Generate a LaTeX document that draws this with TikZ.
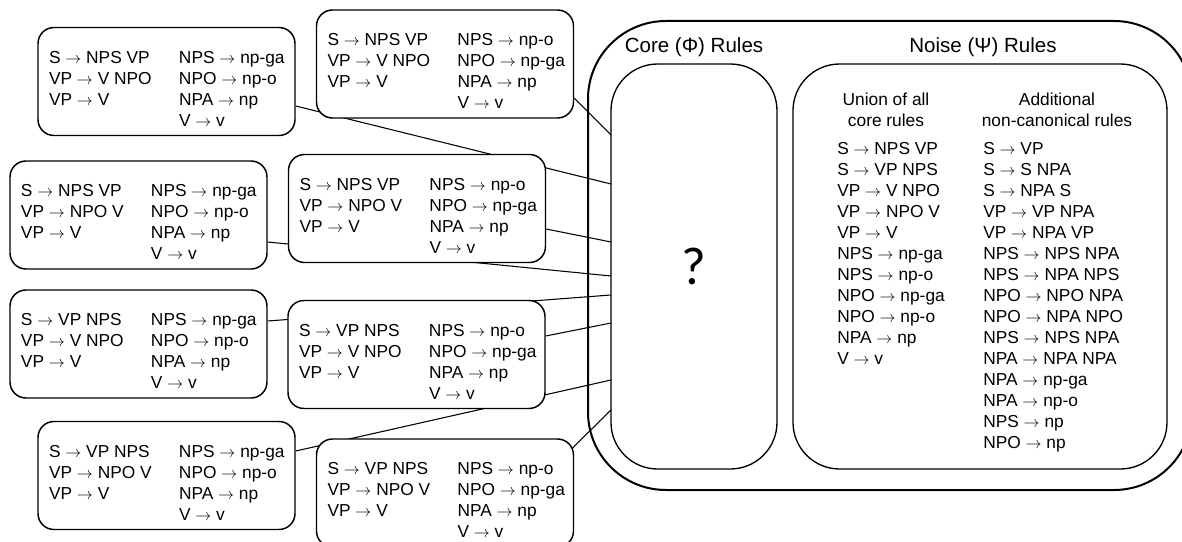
\documentclass[tikz,border=0pt]{standalone}
\usepackage{fontspec}
\setmainfont{Liberation Sans}
\newfontfamily\qfont{Carlito}
\usetikzlibrary{calc}
\pgfdeclarelayer{background}
\pgfsetlayers{background,main}

\tikzset{
  gbox/.style={draw, fill=white, rounded corners=12pt, line width=1.1pt,
    minimum width=192.75pt, minimum height=81pt, inner xsep=8.25pt, inner ysep=0pt},
  ruleset/.style={draw, line width=1pt, rounded corners=35pt, minimum height=303.75pt},
  link/.style={line width=0.8pt},
}
\newcommand{\goes}{$\rightarrow$}
\newcommand{\gram}[4]{\makebox[176.25pt][l]{\raisebox{-9.75pt}[0pt][0pt]{\begin{tabular}{@{}p{97.5pt}@{}l@{}}
S \goes{} #1 & NPS \goes{} #3\\ VP \goes{} #2 & NPO \goes{} #4\\ VP \goes{} V & NPA \goes{} np\\ & V \goes{} v\end{tabular}}}}

\begin{document}
\begin{tikzpicture}[x=0.75pt, y=-0.75pt, font=\fontsize{13pt}{15.8pt}\selectfont]
\useasboundingbox (0,0) rectangle (1182,542);
\clip (0,0) rectangle (1182,542);

% candidate grammars
\node[gbox] (g1) at (166.5,81.5) {\gram{NPS VP}{V NPO}{np-ga}{np-o}};
\node[gbox] (g2) at (445,64) {\gram{NPS VP}{V NPO}{np-o}{np-ga}};
\node[gbox] (g3) at (138.5,215) {\gram{NPS VP}{NPO V}{np-ga}{np-o}};
\node[gbox] (g4) at (417,208.5) {\gram{NPS VP}{NPO V}{np-o}{np-ga}};
\node[gbox] (g5) at (138.5,344) {\gram{VP NPS}{V NPO}{np-ga}{np-o}};
\node[gbox] (g6) at (416.5,354.5) {\gram{VP NPS}{V NPO}{np-o}{np-ga}};
\node[gbox] (g7) at (166.5,475.5) {\gram{VP NPS}{NPO V}{np-ga}{np-o}};
\node[gbox] (g8) at (445,493) {\gram{VP NPS}{NPO V}{np-o}{np-ga}};

% rule sets
\node[draw, line width=1.5pt, rounded corners=58.5pt, minimum width=453pt, minimum height=351.75pt] (frame) at (890,255.5) {};
\node[ruleset, minimum width=124.5pt, font=\qfont\fontsize{40pt}{48pt}\selectfont] (core) at (694,266.5) {?};
\node[ruleset, minimum width=280.5pt] (noise) at (980,266.5) {};

\node[font=\fontsize{15.4pt}{18pt}\selectfont] (coretitle) at (694,47) {Core (Φ) Rules};
\node[font=\fontsize{15.4pt}{18pt}\selectfont] (noisetitle) at (983,47) {Noise (Ψ) Rules};

\node[align=center] (union) at (886,110) {Union of all\\core rules};
\node[align=center] (extra) at (1057,110) {Additional\\non-canonical rules};

\node[anchor=base west, inner sep=0pt] (unionlist) at (837,154) {\begin{tabular}[t]{@{}l@{}}
S \goes{} NPS VP\\ S \goes{} VP NPS\\ VP \goes{} V NPO\\ VP \goes{} NPO V\\ VP \goes{} V\\ NPS \goes{} np-ga\\ NPS \goes{} np-o\\
NPO \goes{} np-ga\\ NPO \goes{} np-o\\ NPA \goes{} np\\ V \goes{} v\end{tabular}};
\node[anchor=base west, inner sep=0pt] (extralist) at (983,154) {\begin{tabular}[t]{@{}l@{}}
S \goes{} VP\\ S \goes{} S NPA\\ S \goes{} NPA S\\ VP \goes{} VP NPA\\ VP \goes{} NPA VP\\ NPS \goes{} NPS NPA\\ NPS \goes{} NPA NPS\\
NPO \goes{} NPO NPA\\ NPO \goes{} NPA NPO\\ NPS \goes{} NPS NPA\\ NPA \goes{} NPA NPA\\ NPA \goes{} np-ga\\ NPA \goes{} np-o\\
NPS \goes{} np\\ NPO \goes{} np\end{tabular}};

\coordinate (c1) at (611,135);
\coordinate (c2) at (611,184);
\coordinate (c3) at (611,242);
\coordinate (c4) at (611,276);
\coordinate (c5) at (611,295);
\coordinate (c6) at (611,323);
\coordinate (c7) at (611,380);
\coordinate (c8) at (611,410);

\begin{pgfonlayer}{background}
\draw[link] ($(g2.east)+(0,34)$) -- (c1);
\draw[link] ($(g1.east)+(0,24.5)$) -- (c2);
\draw[link] ($(g4.east)+(0,20.5)$) -- (c3);
\draw[link] ($(g3.east)+(0,27)$) -- (c4);
\draw[link] ($(g5.east)+(0,-23)$) -- (c5);
\draw[link] ($(g6.east)+(0,-18.5)$) -- (c6);
\draw[link] ($(g7.east)+(0,-24.5)$) -- (c7);
\draw[link] ($(g8.north east)+(-4,12)$) -- (c8);
\end{pgfonlayer}

\end{tikzpicture}
\end{document}
